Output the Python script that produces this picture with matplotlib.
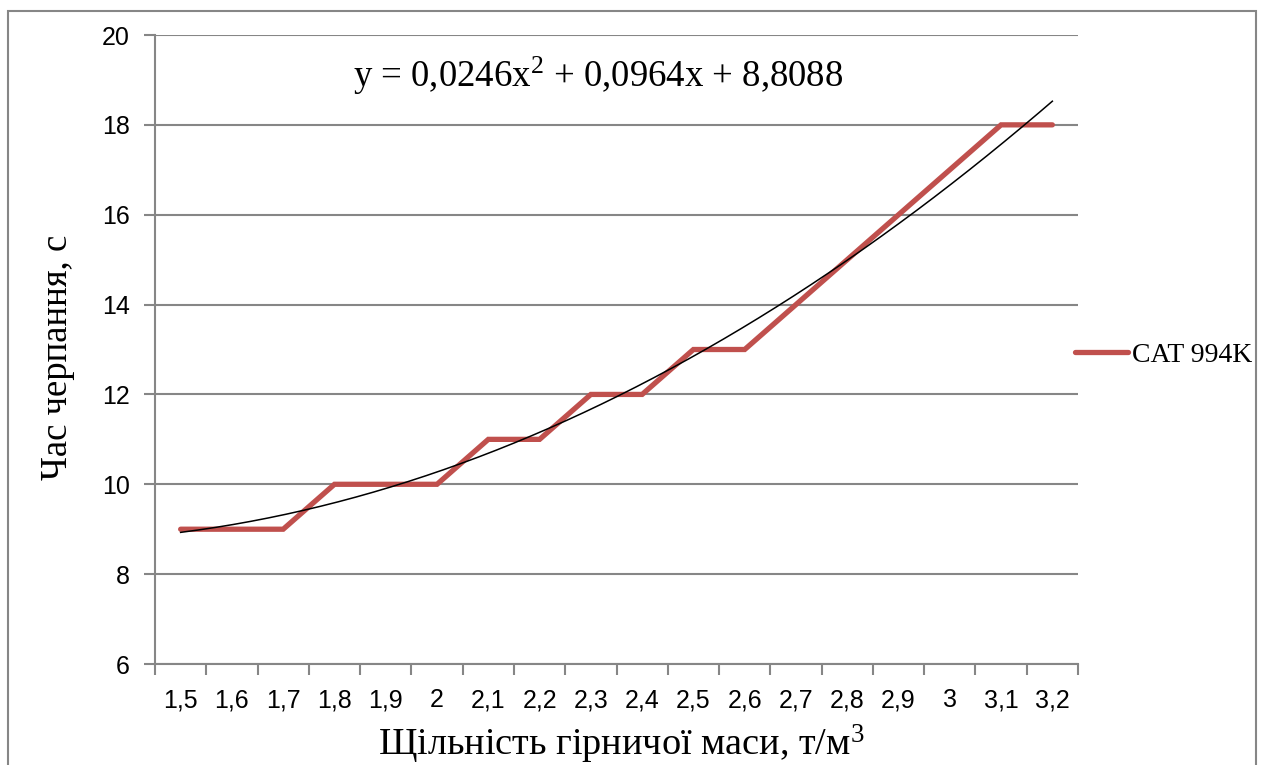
import numpy as np
import matplotlib.pyplot as plt
import matplotlib.transforms as mtransforms
from matplotlib.patches import Rectangle
from matplotlib.ticker import FixedLocator, NullFormatter

density = ['1,5', '1,6', '1,7', '1,8', '1,9', '2', '2,1', '2,2', '2,3',
           '2,4', '2,5', '2,6', '2,7', '2,8', '2,9', '3', '3,1', '3,2']
time_cat = [9, 9, 9, 10, 10, 10, 11, 11, 12, 12, 13, 13, 14, 15, 16, 17, 18, 18]
yticks = [6, 8, 10, 12, 14, 16, 18, 20]

grey = '#868686'
red = '#C0504D'
serif = 'Liberation Serif'
sans = 'Liberation Sans'

plt.rcParams['mathtext.fontset'] = 'custom'
plt.rcParams['mathtext.rm'] = serif
plt.rcParams['mathtext.it'] = serif

W, H = 1267, 765
fig = plt.figure(figsize=(W / 100, H / 100), dpi=100)
ax = fig.add_axes([155 / W, 1 - 664 / H, (1078 - 155) / W, (664 - 35) / H])

idx = np.arange(len(density))
ax.plot(idx, time_cat, color=red, lw=3.8, solid_capstyle='round',
        solid_joinstyle='miter', label='CAT 994K', zorder=3)

# polynomial trendline (Excel style, x = 1..n)
xn = idx + 1
c = np.polyfit(xn, time_cat, 2)
xs = np.linspace(1, len(density), 200)
ax.plot(xs - 1, np.polyval(c, xs), color='black', lw=1.1, zorder=4)

ax.set_xlim(-0.5, len(density) - 0.5)
ax.set_ylim(6, 20)
ax.set_yticks(yticks)
ax.set_yticklabels([str(v) for v in yticks], fontsize=18, family=sans)
ax.set_xticks(idx)
ax.set_xticklabels([])
# category labels on a common baseline
trans = mtransforms.blended_transform_factory(ax.transData, ax.transAxes)
for i, lab in zip(idx, density):
    ax.text(i, -0.0684, lab, transform=trans, ha='center', va='baseline',
            fontsize=18, family=sans)
ax.xaxis.set_minor_locator(FixedLocator(np.arange(-0.5, len(density), 1)))
ax.xaxis.set_minor_formatter(NullFormatter())
ax.tick_params(axis='x', which='major', length=0)
ax.tick_params(axis='x', which='minor', length=8, width=1.5, color=grey)
ax.tick_params(axis='y', length=8, width=1.5, color=grey, pad=10)
ax.grid(axis='y', color=grey, lw=1.5)
ax.set_axisbelow(True)
for s in ['top', 'right']:
    ax.spines[s].set_visible(False)
for s in ['left', 'bottom']:
    ax.spines[s].set_color(grey)
    ax.spines[s].set_linewidth(1.5)

fig.text(58 / W, 1 - 357 / H, 'Час черпання, с', rotation=90, fontsize=26.5,
         family=serif, ha='center', va='center')
fig.text(621 / W, 1 - 744 / H, r'Щільність гірничої маси, т/м$^3$', fontsize=27.5,
         family=serif, ha='center', va='center')
fig.text(598 / W, 1 - 76 / H, r'y = 0,0246x$^2$ + 0,0964x + 8,8088', fontsize=26.5,
         family=serif, ha='center', va='center')

fig.legend(loc='center left', bbox_to_anchor=(1075 / W, 1 - 355 / H),
           frameon=False, prop={'family': serif, 'size': 20},
           handlelength=1.9, handletextpad=0.15, borderpad=0, borderaxespad=0)

fig.add_artist(Rectangle((8 / W, -0.05), (1256 - 8) / W, 1.05 - 11 / H,
                         transform=fig.transFigure, fill=False,
                         edgecolor=grey, lw=1.5))

fig.savefig('out.png', dpi=100)
